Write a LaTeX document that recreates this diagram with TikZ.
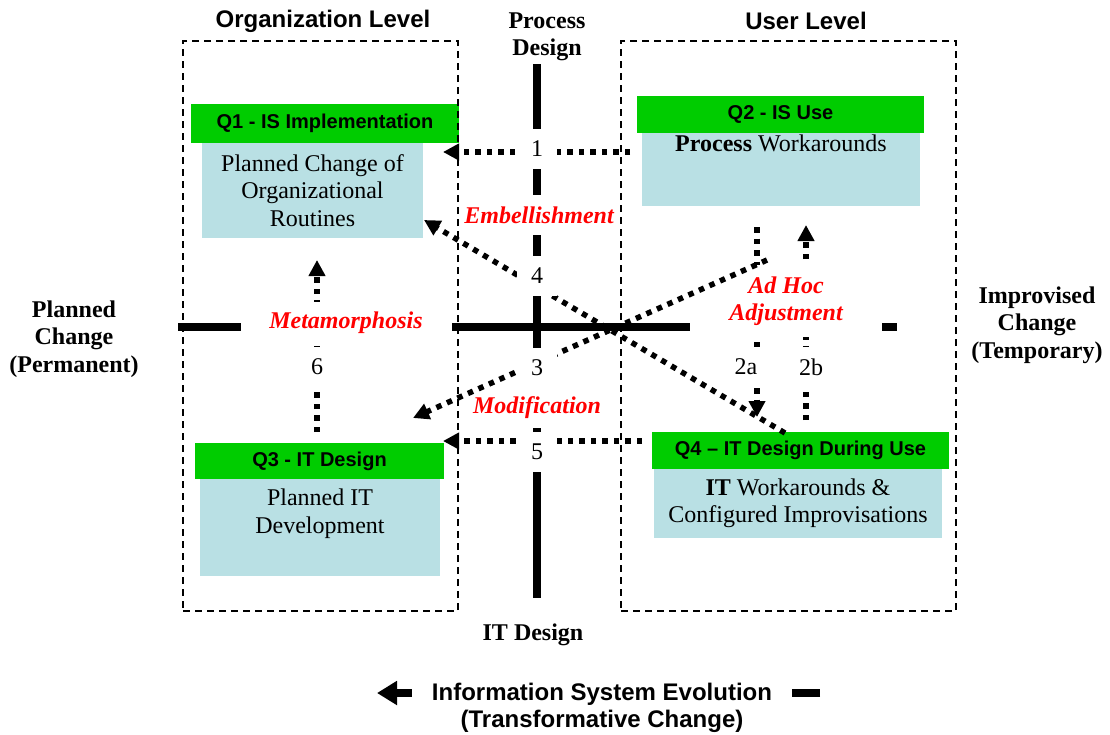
\documentclass[tikz,border=0pt]{standalone}
\usepackage{fontspec}
\setmainfont{Liberation Serif}
\setsansfont{Liberation Sans}
\usepackage{tikz}
\usetikzlibrary{positioning,arrows.meta}
\definecolor{qgreen}{RGB}{0,204,0}
\definecolor{qblue}{RGB}{185,224,228}
\definecolor{evored}{RGB}{255,0,0}
\newcommand{\bigtxt}{\fontsize{24}{27.5}\selectfont}
\newcommand{\hdrtxt}{\fontsize{20}{24}\selectfont}
\tikzset{
  hdr/.style={fill=qgreen,inner sep=0pt,font=\hdrtxt\sffamily\bfseries},
  bdy/.style={fill=qblue,inner sep=0pt},
  txt/.style={align=center,font=\bigtxt,inner sep=2pt},
  lbl/.style={fill=white,font=\bigtxt,inner sep=0pt,minimum width=40pt,minimum height=40pt},
  evo/.style={fill=white,align=center,text=evored,font=\bigtxt\bfseries\itshape,inner sep=0pt},
  axis/.style={line width=8pt},
  dotarr/.style={line width=5.5pt,dash pattern=on 5.5pt off 6pt,-{Triangle[length=16pt,width=16pt]}},
  qarea/.style={draw,line width=1.4pt,dash pattern=on 7pt off 5pt,inner sep=0pt},
  ttl/.style={align=center,font=\bigtxt\bfseries},
}
\begin{document}
\begin{tikzpicture}[x=1pt,y=-1pt]
  \useasboundingbox (0,0) rectangle (1110,734);
  % axes
  \coordinate (vt) at (537,64);
  \coordinate (vb) at (537,598);
  \coordinate (hl) at (178,327);
  \coordinate (hr) at (897,327);
  \draw[axis] (vt) -- (vb);
  \draw[axis] (hl) -- (hr);
  % quadrants
  \node[hdr,minimum width=268pt,minimum height=39pt] (q1h) at (325,123.5) {Q1 - IS Implementation};
  \node[bdy,minimum width=221pt,minimum height=95pt] (q1b) at (312.5,190.5) {};
  \node[txt] (q1t) at (q1b.center) {Planned Change of\\Organizational\\Routines};
  \node[hdr,minimum width=287pt,minimum height=37pt] (q2h) at (780.5,114.5) {Q2 - IS Use};
  \node[bdy,minimum width=278pt,minimum height=73pt] (q2b) at (781,169.5) {};
  \node[txt,anchor=north] (q2t) at (q2b.north) {\textbf{Process} Workarounds};
  \node[hdr,minimum width=249pt,minimum height=36pt] (q3h) at (319.5,461) {Q3 - IT Design};
  \node[bdy,minimum width=240pt,minimum height=97pt] (q3b) at (320,527.5) {};
  \node[txt,anchor=north,yshift=-8pt] (q3t) at (q3b.north) {Planned IT\\Development};
  \node[hdr,minimum width=297pt,minimum height=37pt] (q4h) at (800.5,450.5) {Q4 -- IT Design During Use};
  \node[bdy,minimum width=288pt,minimum height=69pt] (q4b) at (798,503.5) {};
  \node[txt] (q4t) at (q4b.center) {\textbf{IT} Workarounds \&\\Configured Improvisations};
  % dotted arrows
  \coordinate (a1s) at (630,152);  \coordinate (a1e) at (443,152);
  \coordinate (a2as) at (757,227); \coordinate (a2ae) at (757,417);
  \coordinate (a2bs) at (806,420); \coordinate (a2be) at (806,225);
  \coordinate (a3s) at (767,260);  \coordinate (a3e) at (413,418);
  \coordinate (a4s) at (785,433);  \coordinate (a4e) at (424,220);
  \coordinate (a5s) at (642,441);  \coordinate (a5e) at (443,441);
  \coordinate (a6s) at (317,432);  \coordinate (a6e) at (317,260);
  \draw[dotarr] (a1s) -- (a1e);
  \draw[dotarr] (a2as) -- (a2ae);
  \draw[dotarr] (a2bs) -- (a2be);
  \draw[dotarr] (a4s) -- (a4e);
  \draw[dotarr] (a5s) -- (a5e);
  \draw[dotarr] (a6s) -- (a6e);
  % labels
  \node[lbl] (n1) at (537,149) {1};
  \node[lbl] (n4) at (537,276) {4};
  \node[lbl] (n5) at (537,452) {5};
  \node[lbl] (n6) at (317,367) {6};
  \node[lbl] (n2a) at (746,367) {2a};
  \node[lbl] (n2b) at (811,367) {2b};
  \node[evo,minimum height=40pt,inner xsep=3pt] (emb) at (539,215) {Embellishment};
  \node[evo,minimum width=211pt,minimum height=42pt] (meta) at (346,323) {Metamorphosis};
  \node[evo,minimum width=192pt,minimum height=72pt] (adhoc) at (786,301) {Ad Hoc\\Adjustment};
  \node[evo,minimum height=40pt] (modi) at (537,408) {Modification};
  \draw[dotarr] (a3s) -- (a3e);
  \node[lbl] (n3) at (537,368) {3};
  % levels
  \node[qarea,minimum width=275pt,minimum height=570pt] (orgarea) at (320.5,326) {};
  \node[qarea,minimum width=335pt,minimum height=570pt] (userarea) at (788.5,326) {};
  \node[font=\bigtxt\sffamily\bfseries] (orgttl) at (323,21) {Organization Level};
  \node[font=\bigtxt\sffamily\bfseries] (userttl) at (806,21) {User Level};
  \node[ttl] (pd) at (547,37) {Process\\Design};
  \node[ttl] (itd) at (533,635) {IT Design};
  \node[ttl] (plc) at (74,339) {Planned\\Change\\(Permanent)};
  \node[ttl] (imc) at (1037,325) {Improvised\\Change\\(Temporary)};
  % evolution
  \coordinate (evr) at (820,693);
  \coordinate (evl) at (377,693);
  \draw[line width=8pt,-{Triangle[length=20pt,width=23pt]}] (evr) -- (evl);
  \node[fill=white,align=center,inner sep=0pt,minimum width=380pt,font=\bigtxt\sffamily\bfseries] (evo) at (602,708) {Information System Evolution\\(Transformative Change)};
\end{tikzpicture}
\end{document}
